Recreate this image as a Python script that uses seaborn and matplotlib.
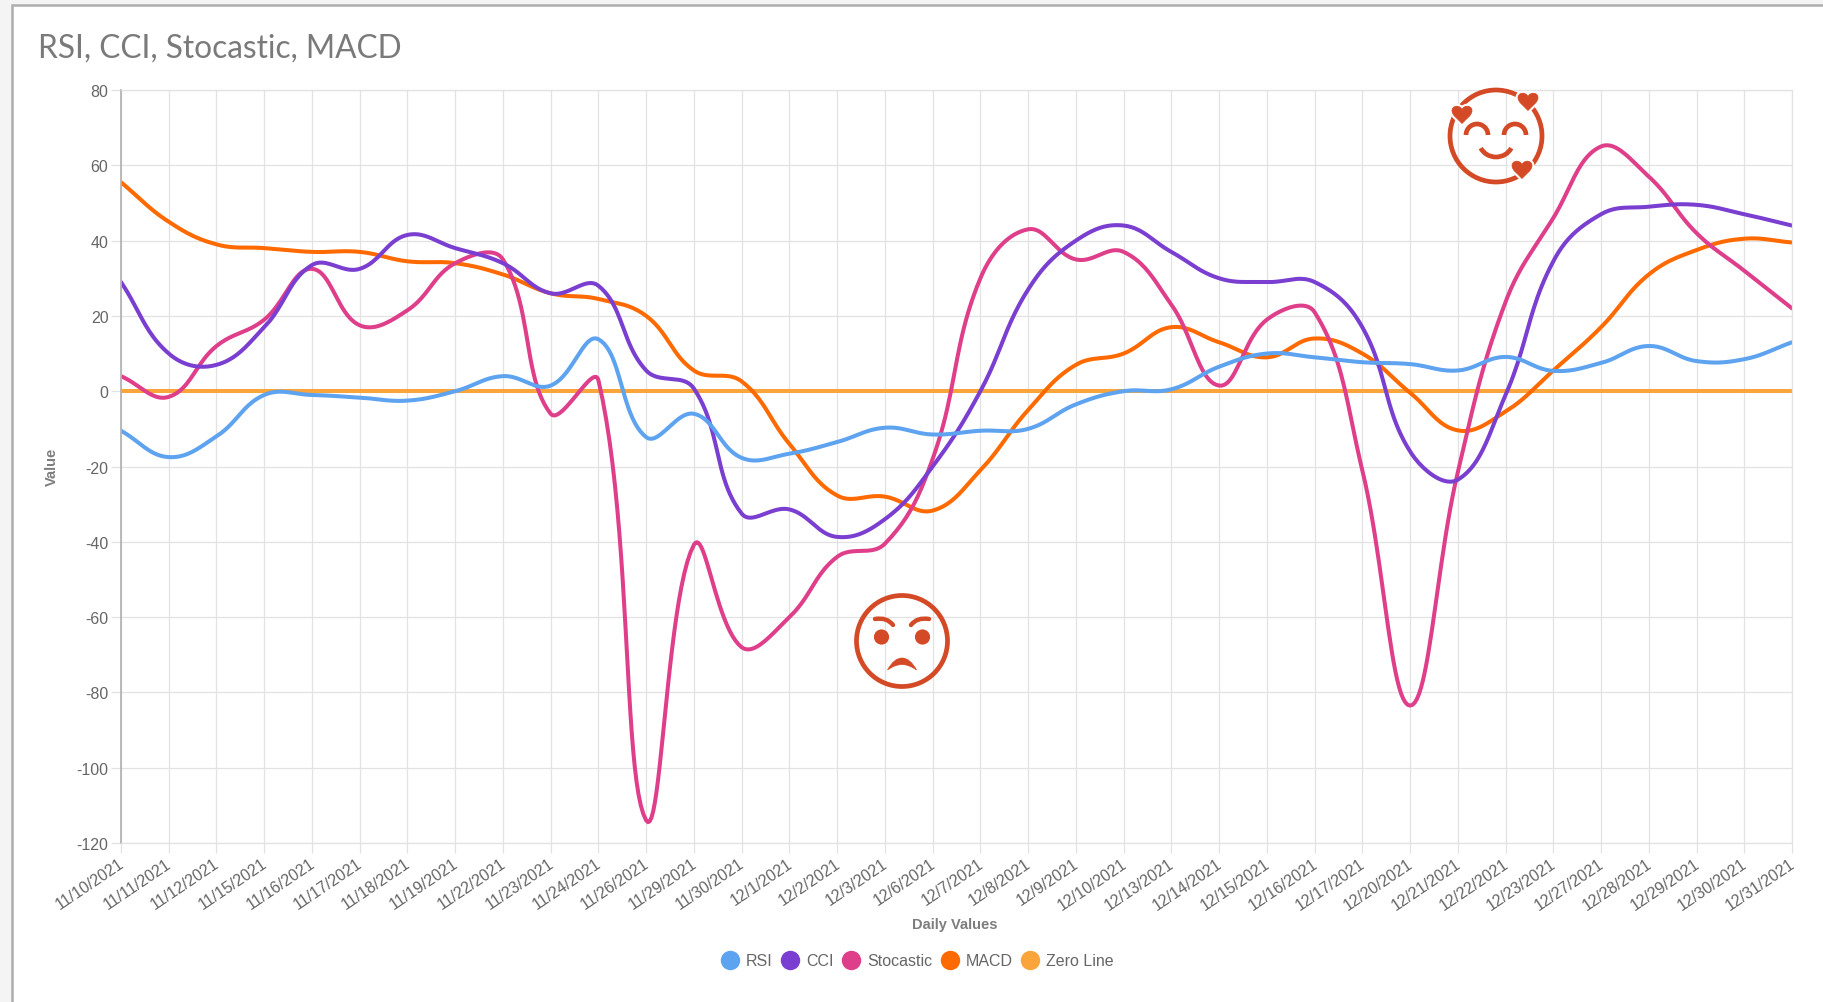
import numpy as np
import pandas as pd
import matplotlib
matplotlib.use('Agg')
import matplotlib.pyplot as plt
from matplotlib.lines import Line2D
from matplotlib.patches import Arc, Circle, PathPatch, Rectangle
from matplotlib.path import Path
from matplotlib.transforms import ScaledTranslation
import seaborn as sns

dates = ['11/10/2021', '11/11/2021', '11/12/2021', '11/15/2021', '11/16/2021', '11/17/2021',
         '11/18/2021', '11/19/2021', '11/22/2021', '11/23/2021', '11/24/2021', '11/26/2021',
         '11/29/2021', '11/30/2021', '12/1/2021', '12/2/2021', '12/3/2021', '12/6/2021',
         '12/7/2021', '12/8/2021', '12/9/2021', '12/10/2021', '12/13/2021', '12/14/2021',
         '12/15/2021', '12/16/2021', '12/17/2021', '12/20/2021', '12/21/2021', '12/22/2021',
         '12/23/2021', '12/27/2021', '12/28/2021', '12/29/2021', '12/30/2021', '12/31/2021']
rsi = [-10.5, -17.5, -12, -1, -1, -1.7, -2.5, 0, 4, 1.5, 13.8, -12.2, -6, -17.7, -16.6, -13.5, -9.7, -11.5,
       -10.5, -10, -3.5, 0, 0.5, 6.5, 10, 9, 7.7, 7.2, 5.5, 9.1, 5.4, 7.5, 12, 8, 8.5, 13]
cci = [29, 10, 7, 17, 33.5, 32.5, 41.5, 38, 34, 26, 28, 5.5, 0.7, -32.5, -31.4, -38.7, -34, -20,
       0, 27, 40, 44, 37, 30, 29, 29, 17, -16, -23.5, -1, 34.5, 47, 49, 49.5, 47, 44]
stocastic = [4, -1.5, 12, 19, 32.5, 17.5, 21.5, 34, 35, -6, 2.9, -114, -40.8, -68, -60, -44, -40.5, -18,
             30, 43, 35, 37, 23, 1.5, 19, 21, -21, -83.5, -21.5, 23.7, 46, 65, 57, 42, 32, 22]
macd = [55.5, 45, 39, 38, 37, 37, 34.5, 34, 31, 26, 24.5, 20, 5.5, 2.6, -14, -27.7, -28, -31.7,
        -21, -5, 7, 10, 17, 13, 9, 14, 10, -0.4, -10.4, -5.4, 5.5, 17, 31, 37.5, 40.5, 39.5]
zero_line = [0] * len(dates)

series_names = ['RSI', 'CCI', 'Stocastic', 'MACD', 'Zero Line']
series_values = [rsi, cci, stocastic, macd, zero_line]
series_colors = ['#5ea3f0', '#7a3fd0', '#df3f8a', '#ff6a00', '#f9a53c']

GREY = '#666666'
GRID = '#e2e2e2'
EMOJI = '#d44a26'
W, H = 1824, 1003
LEFT, RIGHT, TOP, BOTTOM = 121, 1792, 91, 844


def smooth(values, tension=0.4, steps=24):
    # same spline idea as the web chart: bezier handles from each point's neighbours
    xs = np.arange(len(values)) * (RIGHT - LEFT) / (len(values) - 1)
    ys = np.array(values, dtype=float) * (BOTTOM - TOP) / 200
    p = np.column_stack([xs, ys])
    out = []
    t = np.linspace(0, 1, steps)[:, None]
    for i in range(len(p) - 1):
        a, b = p[i], p[i + 1]
        prev_p = p[max(i - 1, 0)]
        next_p = p[min(i + 2, len(p) - 1)]
        d1, d2 = np.linalg.norm(a - prev_p), np.linalg.norm(b - a)
        d3 = np.linalg.norm(next_p - b)
        c1 = a + tension * d2 / (d1 + d2) * (b - prev_p)
        c2 = b - tension * d2 / (d2 + d3) * (next_p - a)
        out.append((1 - t) ** 3 * a + 3 * (1 - t) ** 2 * t * c1 + 3 * (1 - t) * t ** 2 * c2 + t ** 3 * b)
    out = np.vstack(out)
    return out[:, 0] * (len(values) - 1) / (RIGHT - LEFT), out[:, 1] * 200 / (BOTTOM - TOP)


def heart(ax, cx, cy, s):
    verts = [(0, 0.95), (-0.35, 0.55), (-1, 0.15), (-1, -0.35), (-1, -0.8), (-0.3, -1), (0, -0.45),
             (0.3, -1), (1, -0.8), (1, -0.35), (1, 0.15), (0.35, 0.55), (0, 0.95), (0, 0.95)]
    codes = [Path.MOVETO] + [Path.CURVE4] * 12 + [Path.CLOSEPOLY]
    verts = [(cx + x * s, cy + y * s) for x, y in verts]
    ax.add_patch(PathPatch(Path(verts, codes), fc=EMOJI, ec='white', lw=3.5))
    ax.add_patch(PathPatch(Path(verts, codes), fc=EMOJI, ec=EMOJI, lw=0.5))


def brow(ax, cx, cy, side):
    verts = [(cx + side * 27, cy - 22), (cx + side * 15, cy - 24), (cx + side * 9, cy - 16)]
    codes = [Path.MOVETO, Path.CURVE3, Path.CURVE3]
    ax.add_patch(PathPatch(Path(verts, codes), fc='none', ec=EMOJI, lw=3.2, capstyle='round'))


def draw_angry(ax, cx, cy):
    ax.add_patch(Circle((cx, cy), 45.5, fc='none', ec=EMOJI, lw=3.4))
    ax.add_patch(Circle((cx - 20.5, cy - 4), 7.6, fc=EMOJI, ec='none'))
    ax.add_patch(Circle((cx + 20.5, cy - 4), 7.6, fc=EMOJI, ec='none'))
    brow(ax, cx, cy, -1)
    brow(ax, cx, cy, 1)
    # filled crescent, thick in the middle
    verts = [(cx - 14.5, cy + 29), (cx - 8, cy + 17), (cx, cy + 17), (cx + 8, cy + 17), (cx + 14.5, cy + 29),
             (cx + 7, cy + 23.5), (cx, cy + 23.5), (cx - 7, cy + 23.5), (cx - 14.5, cy + 29), (cx - 14.5, cy + 29)]
    codes = [Path.MOVETO] + [Path.CURVE3] * 8 + [Path.CLOSEPOLY]
    ax.add_patch(PathPatch(Path(verts, codes), fc=EMOJI, ec=EMOJI, lw=0.5))


def draw_happy(ax, cx, cy):
    ax.add_patch(Circle((cx, cy), 46, fc='none', ec=EMOJI, lw=3.4))
    ax.add_patch(Arc((cx - 19, cy - 1), 22, 22, theta1=180, theta2=360, ec=EMOJI, lw=3.4))
    ax.add_patch(Arc((cx + 19, cy - 1), 22, 22, theta1=180, theta2=360, ec=EMOJI, lw=3.4))
    ax.add_patch(Arc((cx, cy + 5), 34, 32, theta1=25, theta2=155, ec=EMOJI, lw=3.4))
    heart(ax, cx - 34, cy - 22, 10)
    heart(ax, cx + 32, cy - 35, 10)
    heart(ax, cx + 26, cy + 33, 10)


def main():
    sns.set_theme(style='white')
    plt.rcParams['font.family'] = ['Liberation Sans', 'DejaVu Sans']
    plt.rcParams['axes.unicode_minus'] = False
    fig = plt.figure(figsize=(W / 100, H / 100), dpi=100, facecolor='#f4f4f4')

    # card behind the chart
    back = fig.add_axes([0, 0, 1, 1], zorder=0)
    back.set_xlim(0, W)
    back.set_ylim(H, 0)
    back.axis('off')
    back.add_patch(Rectangle((12.5, 6), W + 20, H + 20, fc='white', ec='#adadad', lw=1.8))
    back.text(38, 58, 'RSI, CCI, Stocastic, MACD', family='Lato', fontsize=22.8, color='#7a7a7a')

    ax = fig.add_axes([LEFT / W, 1 - BOTTOM / H, (RIGHT - LEFT) / W, (BOTTOM - TOP) / H], zorder=1)
    ax.patch.set_alpha(0)

    # first series ends up on top, so draw back to front
    for name, values, color in reversed(list(zip(series_names, series_values, series_colors))):
        xs, ys = smooth(values)
        df = pd.DataFrame({'x': xs, 'y': ys})
        sns.lineplot(data=df, x='x', y='y', color=color, lw=2.9, sort=False, estimator=None,
                     ax=ax, clip_on=True, solid_capstyle='round')

    ax.set_xlim(0, len(dates) - 1)
    ax.set_ylim(-120, 80)
    ax.set_xticks(range(len(dates)))
    ax.set_xticklabels(dates, rotation=34, ha='right', rotation_mode='anchor')
    ax.set_yticks(range(-120, 81, 20))
    ax.grid(True, color=GRID, lw=0.9)
    ax.set_axisbelow(True)
    ax.tick_params(axis='both', length=7, width=0.9, color=GRID, labelcolor=GREY,
                   labelsize=11.5, pad=2, left=True, bottom=True)
    # date labels end a little left of their tick in the original
    shift = ScaledTranslation(-3 / 100, 0, fig.dpi_scale_trans)
    for label in ax.get_xticklabels():
        label.set_transform(label.get_transform() + shift)
    for side in ['top', 'right', 'bottom']:
        ax.spines[side].set_color(GRID)
        ax.spines[side].set_linewidth(0.9)
    ax.spines['left'].set_color('#b4b4b4')
    ax.spines['left'].set_linewidth(1.3)

    ax.set_xlabel('Daily Values', color=GREY, fontsize=10.5, va='center', fontweight='bold', alpha=0.85)
    ax.set_ylabel('Value', color=GREY, fontsize=10.5, va='center', fontweight='bold', alpha=0.85)
    ax.xaxis.set_label_coords((955 - LEFT) / (RIGHT - LEFT), -(925 - BOTTOM) / (BOTTOM - TOP))
    ax.yaxis.set_label_coords(-(121 - 52) / (RIGHT - LEFT), (BOTTOM - 467) / (BOTTOM - TOP))

    handles = [Line2D([], [], ls='none', marker='o', ms=14, color=c, mew=0) for c in series_colors]
    ax.legend(handles, series_names, loc='center', bbox_to_anchor=(918 / W, 1 - 962 / H),
              bbox_transform=fig.transFigure, ncol=5, frameon=False, fontsize=11.5, labelcolor=GREY,
              handlelength=1.0, handletextpad=0.5, columnspacing=0.6)

    # the two hand-added faces
    over = fig.add_axes([0, 0, 1, 1], zorder=2)
    over.set_xlim(0, W)
    over.set_ylim(H, 0)
    over.axis('off')
    draw_angry(over, 902, 642)
    draw_happy(over, 1496, 137)

    fig.savefig('out.png', dpi=100, facecolor=fig.get_facecolor())


if __name__ == '__main__':
    main()
